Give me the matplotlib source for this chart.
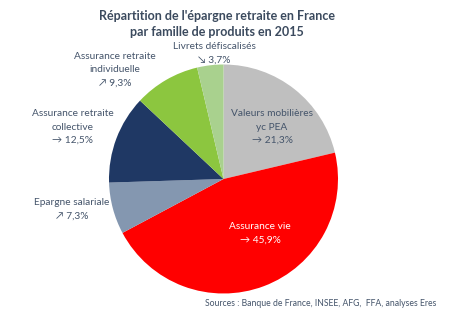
import matplotlib.pyplot as plt

# Répartition de l'épargne retraite par famille de produits (2015)
familles = ['Valeurs mobilières\nyc PEA', 'Assurance vie', 'Epargne salariale',
            'Assurance retraite\ncollective', 'Assurance retraite\nindividuelle',
            'Livrets défiscalisés']
parts = [21.3, 45.9, 7.3, 12.5, 9.3, 3.7]
fleches = ['→', '→', '↗', '→', '↗', '↘']
couleurs = ['#BFBFBF', '#FF0000', '#8497B0', '#1F3864', '#8CC63F', '#A9D18E']

W, H = 457, 325
fig = plt.figure(figsize=(W / 100, H / 100), dpi=100)
ax = fig.add_axes([0, 0, 1, 1])

cx, cy, r = 223.5, H - 179, 114.5
ax.pie(parts, colors=couleurs, startangle=90, counterclock=False,
       center=(cx, cy), radius=r, frame=True,
       wedgeprops=dict(linewidth=0))
ax.set_xlim(0, W)
ax.set_ylim(0, H)
ax.set_aspect('equal')
ax.axis('off')

police = ['Lato', 'DejaVu Sans']
gris = '#44546A'

def fmt(v):
    return f'{v:.1f}%'.replace('.', ',')

# positions des étiquettes (pixels)
pos_lab = [(272, 127), (260, 233), (72, 209), (73, 127), (115, 70), (214, 53)]
for i, (lab, v, fl) in enumerate(zip(familles, parts, fleches)):
    x, y = pos_lab[i]
    col = 'white' if i == 1 else gris
    ax.text(x, H - y, f'{lab}\n{fl} {fmt(v)}', ha='center', va='center',
            fontsize=7.3, color=col, family=police, linespacing=1.65)

ax.text(217, H - 24, "Répartition de l'épargne retraite en France\npar famille de produits en 2015",
        ha='center', va='center', fontsize=9.0, fontweight='bold',
        color='#3B4A5E', family=police, linespacing=1.45)

ax.text(436, H - 303, 'Sources : Banque de France, INSEE, AFG,  FFA, analyses Eres',
        ha='right', va='center', fontsize=6.2, color=gris, family=police)

fig.savefig('out.png', dpi=100)
